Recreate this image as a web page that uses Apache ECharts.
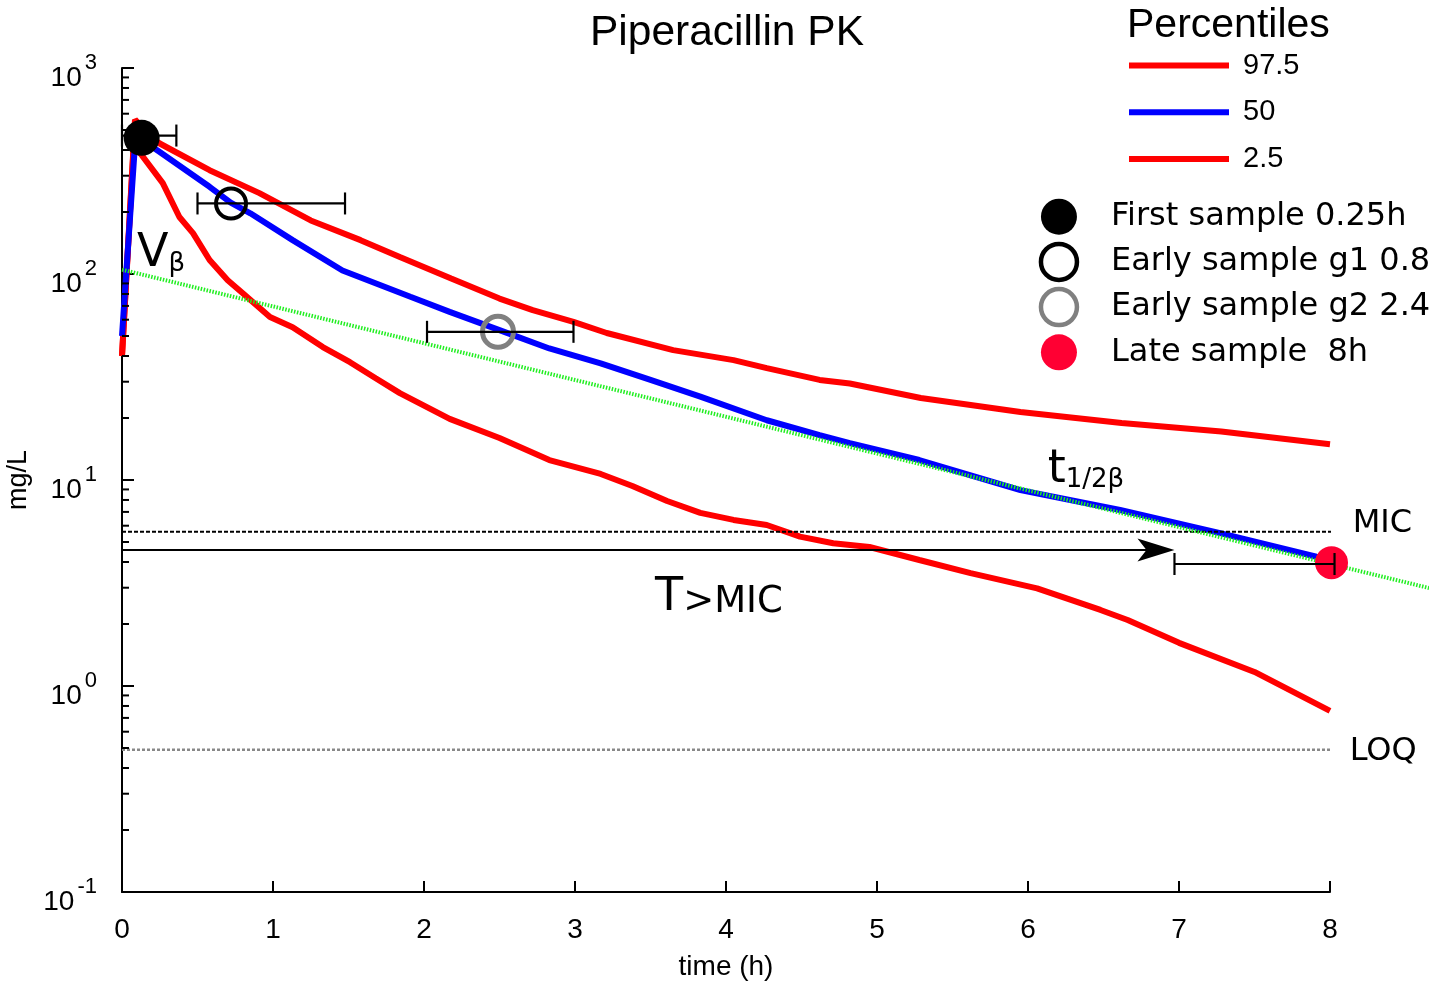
<!DOCTYPE html>
<html>
<head>
<meta charset="utf-8">
<title>Piperacillin PK</title>
<script src="https://cdn.jsdelivr.net/npm/echarts@6/dist/echarts.min.js"></script>
<style>
  html, body { margin: 0; padding: 0; background: #fff; }
  #main { width: 1429px; height: 983px; }
</style>
</head>
<body>
<div id="main"></div>
<script>
// percentile curves: time (h) and concentration (mg/L)
var time975 = [0, 0.086, 0.19, 0.25, 0.58, 0.91, 1.25, 1.58, 1.84, 2.18, 2.5, 2.72, 2.99, 3.21, 3.65, 4.05, 4.27, 4.62, 4.82, 5.29, 5.95, 6.62, 7.28, 8.0];
var pct975 = [40, 562, 462, 430, 319, 247, 182, 146, 121, 95, 76, 66.8, 58.6, 51.7, 42.7, 38.2, 34.9, 30.6, 29.4, 25.0, 21.4, 18.9, 17.2, 14.9];

var time50 = [0, 0.09, 0.25, 0.58, 0.72, 0.85, 1.13, 1.46, 1.91, 2.17, 2.5, 2.83, 3.17, 3.5, 3.83, 4.27, 4.62, 4.82, 5.28, 5.95, 6.61, 7.28, 7.91, 8.0];
var pct50 = [50, 470, 391, 265, 222, 197, 146, 104, 77.5, 65.5, 53.4, 43.5, 36.8, 30.6, 25.4, 19.5, 16.5, 15.1, 12.5, 8.93, 7.15, 5.51, 4.24, 4.09];

var time25 = [0, 0.086, 0.106, 0.27, 0.38, 0.47, 0.58, 0.70, 0.80, 0.98, 1.13, 1.33, 1.51, 1.68, 1.84, 2.17, 2.5, 2.83, 3.17, 3.38, 3.61, 3.83, 4.05, 4.27, 4.49, 4.71, 4.95, 5.28, 5.62, 6.06, 6.48, 6.66, 7.0, 7.5, 8.0];
var pct25 = [40, 540, 399, 276, 189, 158, 117, 93.3, 80.7, 61.8, 55.2, 44.2, 37.3, 31.2, 26.4, 19.8, 16.0, 12.5, 10.7, 9.35, 7.91, 6.92, 6.40, 6.05, 5.31, 4.93, 4.73, 4.09, 3.53, 2.98, 2.34, 2.09, 1.62, 1.17, 0.757];

// terminal (beta) phase fit, runs past the axis end
var timeFit = [0, 8.656];
var concFit = [105, 2.99];

// reference levels
var micLevel = 5.61;
var loqLevel = 0.49;
var levelSpan = [0, 8.02];
var timeAboveMic = [0, 6.97, 4.57];   // from, to, drawn at

// samples: [time, conc]
var firstSample = [0.13, 458];
var earlyG1 = [0.722, 220];
var earlyG2 = [2.49, 52.4];
var lateSample = [8.01, 3.97];
// horizontal error bars: [from, to, conc]
var errorBars = [[0, 0.36, 470], [0.50, 1.477, 220], [2.02, 2.99, 52.4], [6.97, 8.03, 3.91]];

// y axis minor ticks (log)
var minorMult = [2, 3, 4, 5, 6, 7, 8, 9];
var decades = [0.1, 1, 10, 100];
var yMinorTicks = [];
decades.forEach(function (d) { minorMult.forEach(function (m) { yMinorTicks.push(m * d); }); });

// text annotations: [time, conc]
var notePos = [[0.099, 96.5], [6.13, 8.6], [3.53, 2.07], [8.15, 6.12], [8.13, 0.479]];
var noteText = ['{a|V}{b|β}', '{a|t}{b|1/2β}', '{a|T}{d|>MIC}', '{c|MIC}', '{c|LOQ}'];

function zip(xs, ys) { return xs.map(function (x, i) { return [x, ys[i]]; }); }

var sans = 'Liberation Sans';
var dejavu = 'DejaVu Sans';

var myChart = echarts.init(document.getElementById('main'));

var option = {
    animation: false,
    backgroundColor: '#fff',
    title: [
        { text: 'Piperacillin PK', left: 722, top: 7, textAlign: 'center',
          textStyle: { fontFamily: sans, fontSize: 42.5, fontWeight: 'normal', color: '#000' } },
        { text: 'Percentiles', left: 1122, top: 0,
          textStyle: { fontFamily: sans, fontSize: 41, fontWeight: 'normal', color: '#000' } }
    ],
    legend: [
        { data: ['97.5', '50', '2.5'], orient: 'vertical', left: 1129, top: 44.5, padding: 0,
          icon: 'rect', itemWidth: 100, itemHeight: 6, itemGap: 4.7,
          textStyle: { fontFamily: sans, fontSize: 29, color: '#000', lineHeight: 30, padding: [12, 0, 0, 9] } },
        { data: [
            { name: 'First sample 0.25h', icon: 'circle', itemStyle: { color: '#000', borderWidth: 0, opacity: 1 } },
            { name: 'Early sample g1 0.8h', icon: 'circle', itemStyle: { color: '#fff', borderColor: '#000', borderWidth: 4.5, opacity: 1 } },
            { name: 'Early sample g2 2.4h', icon: 'circle', itemStyle: { color: '#fff', borderColor: '#808080', borderWidth: 4.5, opacity: 1 } },
            { name: 'Late sample  8h', icon: 'circle', itemStyle: { color: '#ff0033', borderWidth: 0, opacity: 1 } }
          ],
          orient: 'vertical', left: 1038.7, top: 194.7, padding: 0,
          itemWidth: 36, itemHeight: 36, itemGap: 1.2,
          textStyle: { fontFamily: dejavu, fontSize: 32, color: '#000', lineHeight: 34, padding: [0, 0, 10, 29] } }
    ],
    grid: { left: 122, right: 99, top: 68, bottom: 91, outerBoundsMode: 'none', containLabel: false },
    xAxis: {
        type: 'value', min: 0, max: 8, interval: 1,
        name: 'time (h)', nameLocation: 'middle', nameGap: 61,
        nameTextStyle: { fontFamily: sans, fontSize: 28, color: '#000' },
        axisLine: { onZero: false, lineStyle: { color: '#000', width: 2 } },
        axisTick: { inside: true, length: 11, lineStyle: { color: '#000', width: 2 } },
        axisLabel: { margin: 24, fontFamily: sans, fontSize: 28, color: '#000' },
        splitLine: { show: false }
    },
    yAxis: {
        type: 'log', logBase: 10, min: 0.1, max: 1000,
        name: 'mg/L', nameLocation: 'middle', nameGap: 78,
        nameTextStyle: { fontFamily: sans, fontSize: 27, color: '#000' },
        axisLine: { lineStyle: { color: '#000', width: 2 } },
        axisTick: { inside: true, length: 12, lineStyle: { color: '#000', width: 2 } },
        axisLabel: {
            margin: 25, padding: [8, 0, 0, 0],
            formatter: function (v) { return '{b|10}{s|' + Math.round(Math.log10(v)) + '}'; },
            rich: {
                b: { fontFamily: sans, fontSize: 28, color: '#000', verticalAlign: 'bottom' },
                s: { fontFamily: sans, fontSize: 22, color: '#000', verticalAlign: 'top', padding: [0, 0, 19, 3] }
            }
        },
        splitLine: { show: false }
    },
    series: [
        { name: 'minorTicks', type: 'custom', silent: true, z: 3,
          data: yMinorTicks.map(function (v) { return [0, v]; }),
          renderItem: function (params, api) {
              var p = api.coord([0, api.value(1)]);
              return { type: 'line', shape: { x1: p[0], y1: p[1], x2: p[0] + 7, y2: p[1] },
                       style: { stroke: '#000', lineWidth: 2 } };
          } },
        { name: '97.5', type: 'line', data: zip(time975, pct975), showSymbol: false, z: 2,
          itemStyle: { color: '#ff0000' }, lineStyle: { color: '#ff0000', width: 6 } },
        { name: '2.5', type: 'line', data: zip(time25, pct25), showSymbol: false, z: 2,
          itemStyle: { color: '#ff0000' }, lineStyle: { color: '#ff0000', width: 6 } },
        { name: '50', type: 'line', data: zip(time50, pct50), showSymbol: false, z: 2,
          itemStyle: { color: '#0000ff' }, lineStyle: { color: '#0000ff', width: 6 } },
        { name: 'beta fit', type: 'custom', silent: true, z: 3, clip: false,
          data: [[timeFit[0], concFit[0], timeFit[1], concFit[1]]],
          renderItem: function (params, api) {
              var a = api.coord([api.value(0), api.value(1)]);
              var b = api.coord([api.value(2), api.value(3)]);
              return { type: 'line', shape: { x1: a[0], y1: a[1], x2: b[0], y2: b[1] },
                       style: { stroke: '#22ee22', lineWidth: 4, lineDash: [1.5, 1.5] } };
          } },
        { name: 'MIC', type: 'line', data: zip(levelSpan, [micLevel, micLevel]), showSymbol: false, clip: false, z: 2,
          lineStyle: { color: '#000', width: 2, type: [4, 2] } },
        { name: 'LOQ', type: 'line', data: zip(levelSpan, [loqLevel, loqLevel]), showSymbol: false, clip: false, z: 2,
          lineStyle: { color: '#888', width: 2.5, type: [3, 2] } },
        { name: 'T>MIC', type: 'custom', silent: true, z: 4, clip: false,
          data: [timeAboveMic],
          renderItem: function (params, api) {
              var a = api.coord([api.value(0), api.value(2)]);
              var b = api.coord([api.value(1), api.value(2)]);
              return { type: 'group', children: [
                  { type: 'line', shape: { x1: a[0], y1: a[1], x2: b[0] - 20, y2: b[1] },
                    style: { stroke: '#000', lineWidth: 2 } },
                  { type: 'polygon', shape: { points: [[b[0], b[1]], [b[0] - 37, b[1] - 11.5], [b[0] - 28, b[1]], [b[0] - 37, b[1] + 11.5]] },
                    style: { fill: '#000' } }
              ] };
          } },
        { name: 'First sample 0.25h', type: 'scatter', data: [firstSample], symbolSize: 36, z: 5,
          itemStyle: { color: '#000', opacity: 1 } },
        { name: 'Early sample g1 0.8h', type: 'scatter', data: [earlyG1], symbolSize: 30, z: 5,
          itemStyle: { color: 'rgba(0,0,0,0)', borderColor: '#000', borderWidth: 4, opacity: 1 } },
        { name: 'Early sample g2 2.4h', type: 'scatter', data: [earlyG2], symbolSize: 31, z: 5,
          itemStyle: { color: 'rgba(0,0,0,0)', borderColor: '#808080', borderWidth: 5, opacity: 1 } },
        { name: 'Late sample  8h', type: 'scatter', data: [lateSample], symbolSize: 33, z: 5, clip: false,
          itemStyle: { color: '#ff0033', opacity: 1 } },
        { name: 'errorBars', type: 'custom', silent: true, z: 6, clip: false,
          data: errorBars,
          renderItem: function (params, api) {
              var lo = api.coord([api.value(0), api.value(2)]);
              var hi = api.coord([api.value(1), api.value(2)]);
              var h = 11;
              var st = { stroke: '#000', lineWidth: 2.2 };
              return { type: 'group', children: [
                  { type: 'line', shape: { x1: lo[0], y1: lo[1], x2: hi[0], y2: hi[1] }, style: st },
                  { type: 'line', shape: { x1: lo[0], y1: lo[1] - h, x2: lo[0], y2: lo[1] + h }, style: st },
                  { type: 'line', shape: { x1: hi[0], y1: hi[1] - h, x2: hi[0], y2: hi[1] + h }, style: st }
              ] };
          } },
        { name: 'notes', type: 'custom', silent: true, z: 7, clip: false,
          data: notePos,
          renderItem: function (params, api) {
              var p = api.coord([api.value(0), api.value(1)]);
              var i = params.dataIndex;
              return { type: 'text', x: p[0], y: p[1],
                  style: {
                      text: noteText[i], align: 'left', verticalAlign: i >= 3 ? 'middle' : 'bottom', fill: '#000',
                      rich: {
                          a: { fontFamily: dejavu, fontSize: 46, fill: '#000', verticalAlign: 'bottom' },
                          b: { fontFamily: dejavu, fontSize: 26, fill: '#000', verticalAlign: 'bottom' },
                          d: { fontFamily: dejavu, fontSize: 37, fill: '#000', verticalAlign: 'bottom' },
                          c: { fontFamily: dejavu, fontSize: 32, fill: '#000' }
                      }
                  } };
          } }
    ]
};

myChart.setOption(option);
</script>
</body>
</html>
